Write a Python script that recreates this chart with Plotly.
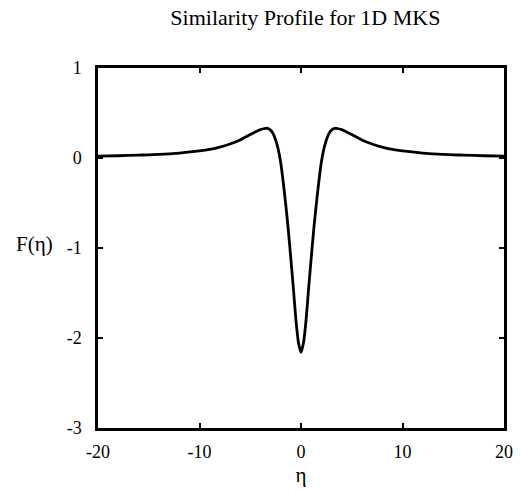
import plotly.graph_objects as go

# Similarity profile F(eta) (symmetric about eta = 0)
eta_pos = [0, 0.25, 0.5, 0.75, 1.0, 1.25, 1.5, 1.75, 2.0, 2.25, 2.5, 2.75, 3.0, 3.3,
           3.7, 4.0, 4.5, 5, 6, 7, 8, 9, 10, 12, 14, 16, 18, 20]
f_pos = [-2.16, -2.05, -1.8, -1.45, -1.12, -0.8, -0.52, -0.27, -0.05, 0.1, 0.2, 0.27,
         0.31, 0.33, 0.325, 0.315, 0.29, 0.26, 0.2, 0.155, 0.12, 0.095, 0.078, 0.055,
         0.04, 0.032, 0.025, 0.02]

eta = [-e for e in eta_pos[:0:-1]] + eta_pos
F = f_pos[:0:-1] + f_pos

x_ticks = [-20, -10, 0, 10, 20]
y_ticks = [-3, -2, -1, 0, 1]

FONT = "Liberation Serif, Times New Roman, serif"

fig = go.Figure()
fig.add_trace(go.Scatter(x=eta, y=F, mode="lines",
                         line=dict(color="black", width=2.8, shape="spline", smoothing=0.6),
                         showlegend=False, hoverinfo="skip"))

axis_common = dict(showgrid=False, zeroline=False, showline=True, linecolor="black",
                   linewidth=2.5, mirror="ticks", ticks="inside", ticklen=5,
                   tickwidth=1.5, tickcolor="black",
                   tickfont=dict(family=FONT, size=18, color="black"))

fig.update_layout(
    width=522, height=492,
    margin=dict(l=98, r=9, t=68, b=59),
    paper_bgcolor="white", plot_bgcolor="white",
    title=dict(text="Similarity Profile for 1D MKS", x=0.585, xanchor="center",
               yref="container", y=1 - 17 / 492, yanchor="middle",
               font=dict(family=FONT, size=22, color="black")),
    xaxis=dict(range=[-20, 20], tickvals=x_ticks, ticktext=[str(v) for v in x_ticks],
               ticklabelstandoff=6,
               title=dict(text="η", font=dict(family=FONT, size=21, color="black"), standoff=6),
               **axis_common),
    yaxis=dict(range=[-3, 1], tickvals=y_ticks, ticktext=[str(v) for v in y_ticks],
               ticklabelstandoff=10, **axis_common),
    annotations=[dict(text="F(η)", xref="paper", yref="paper", x=-0.157, y=0.51,
                      xanchor="center", yanchor="middle", showarrow=False,
                      font=dict(family=FONT, size=21, color="black"))],
)

fig.write_html("out.html")
